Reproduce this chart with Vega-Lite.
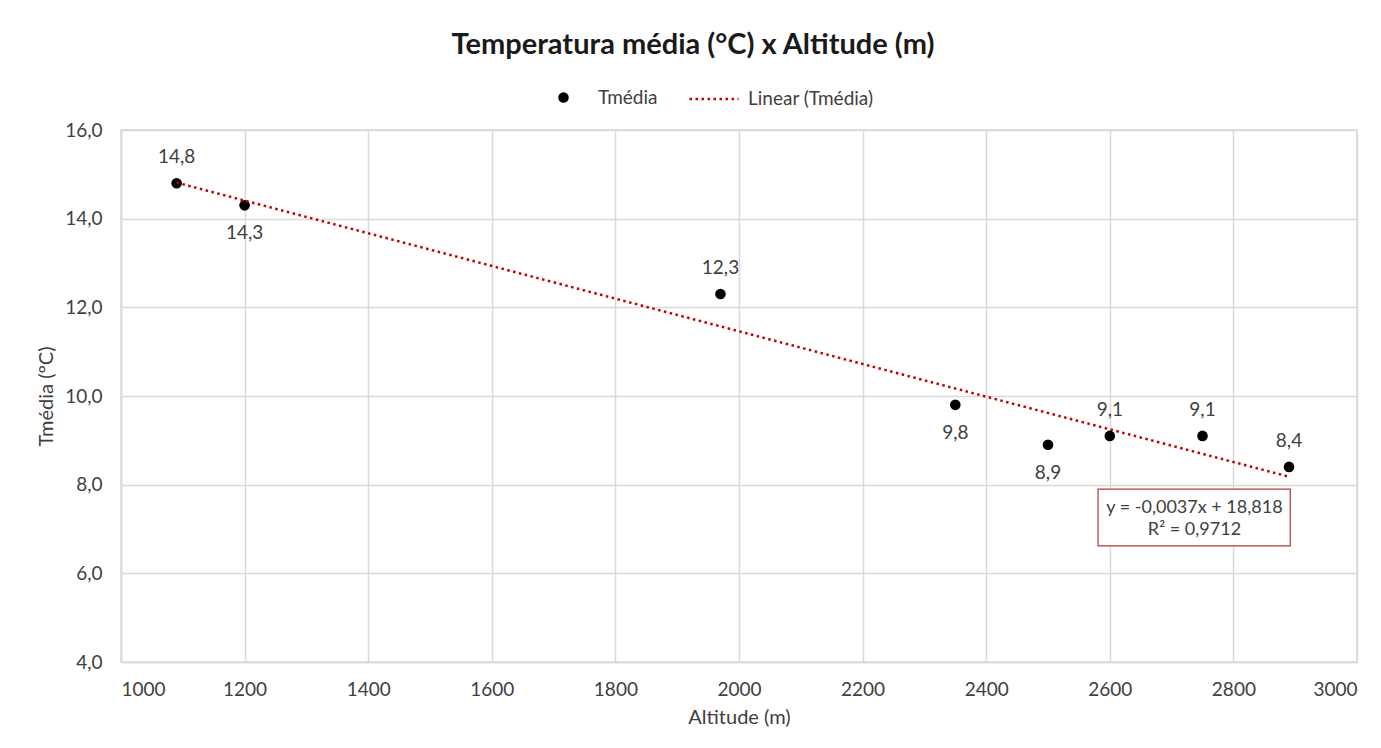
{
  "$schema": "https://vega.github.io/schema/vega-lite/v6.json",
  "width": 1236,
  "height": 532,
  "autosize": "none",
  "padding": {"left": 121, "top": 130, "right": 24, "bottom": 86},
  "background": "white",
  "config": {
    "font": "Lato",
    "locale": {"number": {"decimal": ",", "thousands": ".", "grouping": [3], "currency": ["R$", ""]}},
    "view": {"stroke": "#d9d9d9", "strokeWidth": 1.5},
    "axis": {
      "gridColor": "#d9d9d9",
      "gridWidth": 1.5,
      "domainColor": "#d9d9d9",
      "domainWidth": 1.5,
      "ticks": false,
      "labelFontSize": 19,
      "labelColor": "#404040",
      "titleFontSize": 20,
      "titleFontWeight": "normal",
      "titleColor": "#404040"
    }
  },
  "title": {
    "text": "Temperatura média (°C) x Altitude (m)",
    "fontSize": 29,
    "fontWeight": "bold",
    "color": "#1a1a1a",
    "anchor": "middle",
    "dx": -46,
    "offset": 13
  },
  "data": {
    "values": [
      {"alt": 1090, "t": 14.8, "serie": "Tmédia", "trend": "Linear (Tmédia)"},
      {"alt": 1200, "t": 14.3, "serie": "Tmédia", "trend": "Linear (Tmédia)"},
      {"alt": 1970, "t": 12.3, "serie": "Tmédia", "trend": "Linear (Tmédia)"},
      {"alt": 2350, "t": 9.8, "serie": "Tmédia", "trend": "Linear (Tmédia)"},
      {"alt": 2500, "t": 8.9, "serie": "Tmédia", "trend": "Linear (Tmédia)"},
      {"alt": 2600, "t": 9.1, "serie": "Tmédia", "trend": "Linear (Tmédia)"},
      {"alt": 2750, "t": 9.1, "serie": "Tmédia", "trend": "Linear (Tmédia)"},
      {"alt": 2890, "t": 8.4, "serie": "Tmédia", "trend": "Linear (Tmédia)"}
    ]
  },
  "layer": [
    {
      "mark": {"type": "circle", "size": 113, "opacity": 1},
      "encoding": {
        "x": {
          "field": "alt",
          "type": "quantitative",
          "scale": {"domain": [1000, 3000], "nice": false},
          "axis": {"values": [1000, 1200, 1400, 1600, 1800, 2000, 2200, 2400, 2600, 2800, 3000], "format": "d", "title": "Altitude (m)", "labelPadding": 18, "titlePadding": 8}
        },
        "y": {
          "field": "t",
          "type": "quantitative",
          "scale": {"domain": [4, 16], "nice": false, "zero": false},
          "axis": {"values": [4, 6, 8, 10, 12, 14, 16], "format": ".1f", "title": "Tmédia (°C)", "labelPadding": 19, "titlePadding": 8}
        },
        "color": {
          "field": "serie",
          "type": "nominal",
          "scale": {"range": ["black"]},
          "legend": {
            "title": null,
            "orient": "none",
            "legendX": 433,
            "legendY": -42,
            "labelFontSize": 19,
            "labelColor": "#404040",
            "symbolType": "circle",
            "symbolSize": 110,
            "symbolOpacity": 1,
            "labelOffset": 25
          }
        }
      }
    },
    {
      "transform": [{"regression": "t", "on": "alt", "groupby": ["trend"]}],
      "mark": {"type": "line", "color": "#C00000", "strokeWidth": 2.5},
      "encoding": {
        "x": {"field": "alt", "type": "quantitative"},
        "y": {"field": "t", "type": "quantitative"},
        "strokeDash": {
          "field": "trend",
          "type": "nominal",
          "scale": {"range": [[2.5, 3.5]]},
          "legend": {
            "title": null,
            "orient": "none",
            "legendX": 567,
            "legendY": -57,
            "labelFontSize": 19,
            "labelColor": "#404040",
            "symbolType": "stroke",
            "symbolSize": 2400,
            "symbolStrokeColor": "#C00000",
            "symbolStrokeWidth": 2.5,
            "labelOffset": 8
          }
        }
      }
    },
    {
      "transform": [{"filter": "datum.alt != 1200 && datum.alt != 2350 && datum.alt != 2500"}],
      "mark": {"type": "text", "dy": -26, "fontSize": 19, "color": "#404040"},
      "encoding": {
        "x": {"field": "alt", "type": "quantitative"},
        "y": {"field": "t", "type": "quantitative"},
        "text": {"field": "t", "format": ".1f"}
      }
    },
    {
      "transform": [{"filter": "datum.alt == 1200 || datum.alt == 2350 || datum.alt == 2500"}],
      "mark": {"type": "text", "dy": 28, "fontSize": 19, "color": "#404040"},
      "encoding": {
        "x": {"field": "alt", "type": "quantitative"},
        "y": {"field": "t", "type": "quantitative"},
        "text": {"field": "t", "format": ".1f"}
      }
    },
    {
      "data": {"values": [{"k": 1}]},
      "mark": {"type": "rect", "fill": "white", "stroke": "#B03A3A", "strokeWidth": 1.2},
      "encoding": {
        "x": {"datum": 2581, "type": "quantitative"},
        "x2": {"datum": 2892},
        "y": {"datum": 7.9, "type": "quantitative"},
        "y2": {"datum": 6.62}
      }
    },
    {
      "data": {"values": [{"k": 1}]},
      "mark": {"type": "text", "fontSize": 18, "color": "#404040", "lineHeight": 22, "text": ["y = -0,0037x + 18,818", "R² = 0,9712"]},
      "encoding": {
        "x": {"datum": 2737, "type": "quantitative"},
        "y": {"datum": 7.47, "type": "quantitative"}
      }
    }
  ]
}
